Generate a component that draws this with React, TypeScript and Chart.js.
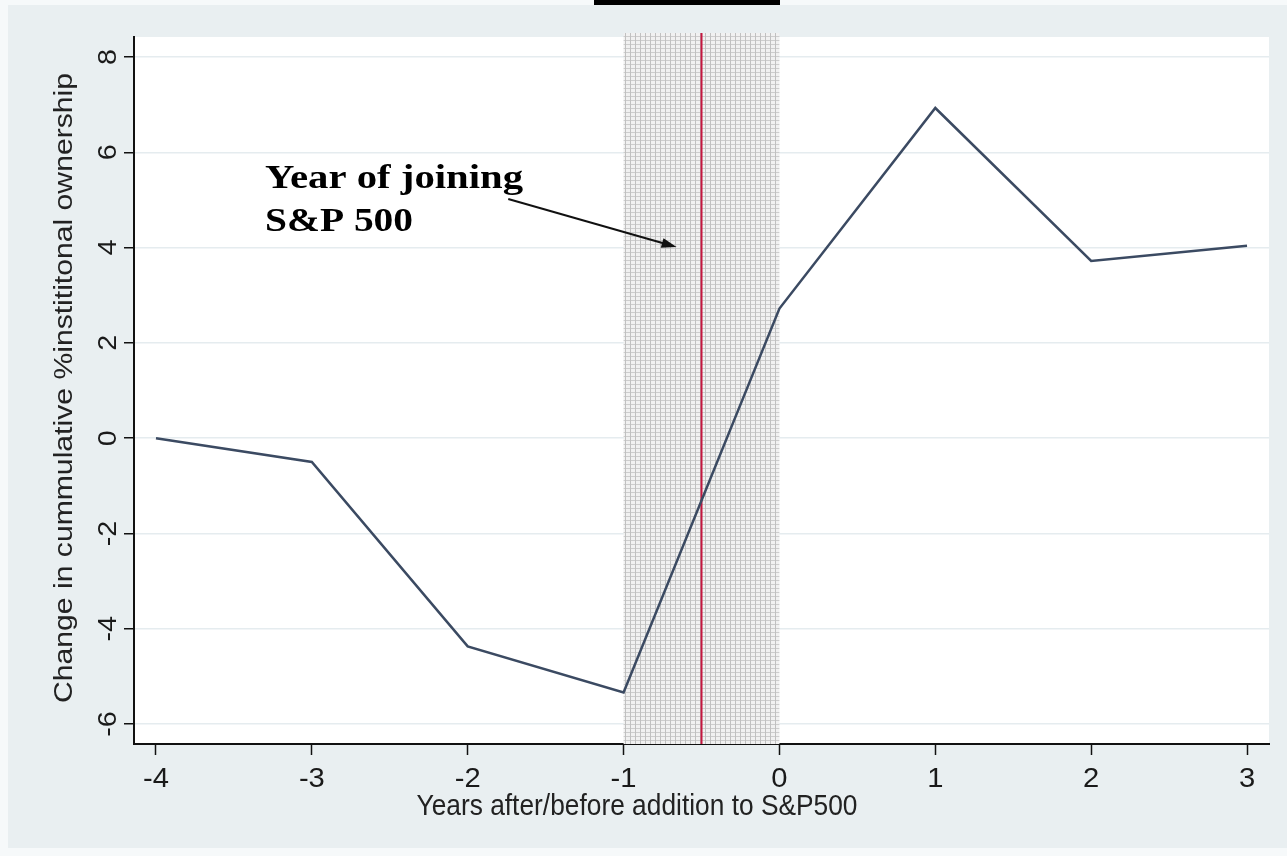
import React, { useEffect, useRef } from "react";
import { Chart, registerables } from "chart.js";

Chart.register(...registerables);

const years = [-4, -3, -2, -1, 0, 1, 2, 3];
const change = [0, -0.5, -4.37, -5.34, 2.72, 6.93, 3.72, 4.04];
const xTicks = [-4, -3, -2, -1, 0, 1, 2, 3];
const yTicks = [-6, -4, -2, 0, 2, 4, 6, 8];
const shadeRange = [-1, 0];
const eventYear = -0.5;
const annotationLines = ["Year of joining", "S&P 500"];
const annotationAnchor = [-3.3, 5.25, 4.35];
const arrowFrom = [-1.74, 5.02];
const arrowTo = [-0.66, 4.01];
const xTitle = "Years after/before addition to S&P500";
const yTitle = "Change in cummulative %instititonal ownership";

const W = 1287;
const H = 856;
const SANS = '"Liberation Sans", Arial, sans-serif';
const SERIF = '"Liberation Serif", "Times New Roman", serif';

function fitText(
  ctx: CanvasRenderingContext2D,
  text: string,
  x: number,
  y: number,
  font: string,
  targetLen: number,
  rot: number,
  align: CanvasTextAlign,
  vs = 1
) {
  ctx.save();
  ctx.font = font;
  const w = ctx.measureText(text).width;
  const s = targetLen / w;
  ctx.translate(x, y);
  ctx.rotate(rot);
  ctx.scale(s, vs);
  ctx.textAlign = align;
  ctx.textBaseline = "alphabetic";
  ctx.fillText(text, 0, 0);
  ctx.restore();
}

function makePattern(ctx: CanvasRenderingContext2D) {
  const c = document.createElement("canvas");
  c.width = 5;
  c.height = 4;
  const p = c.getContext("2d")!;
  p.fillStyle = "#F1F1F1";
  p.fillRect(0, 0, 5, 4);
  p.fillStyle = "#CDCDCD";
  p.fillRect(0, 0, 5, 1);
  p.fillStyle = "#C0C0C0";
  p.fillRect(0, 0, 1, 4);
  return ctx.createPattern(c, "repeat");
}

const decor = {
  id: "decor",
  beforeDraw(chart: any) {
    const { ctx, chartArea: a } = chart;
    ctx.save();
    ctx.fillStyle = "#F6F9FA";
    ctx.fillRect(0, 0, W, H);
    ctx.fillStyle = "#E9EFF1";
    ctx.fillRect(8, 5, W - 8, 843);
    ctx.fillStyle = "#FFFFFF";
    ctx.fillRect(a.left, a.top, a.right - a.left, a.bottom - a.top);
    ctx.restore();
  },
  beforeDatasetsDraw(chart: any) {
    const { ctx, chartArea: a, scales } = chart;
    const xs = scales.x;
    const x0 = xs.getPixelForValue(shadeRange[0]);
    const x1 = xs.getPixelForValue(shadeRange[1]);
    ctx.save();
    const pat = makePattern(ctx);
    if (pat) ctx.fillStyle = pat;
    ctx.fillRect(x0, a.top - 4, x1 - x0, a.bottom - a.top + 4);
    const xr = xs.getPixelForValue(eventYear);
    ctx.strokeStyle = "#C4173F";
    ctx.lineWidth = 2;
    ctx.beginPath();
    ctx.moveTo(xr, a.top - 4);
    ctx.lineTo(xr, a.bottom);
    ctx.stroke();
    ctx.restore();
  },
  afterDraw(chart: any) {
    const { ctx, scales } = chart;
    const xs = scales.x;
    const ys = scales.y;
    ctx.save();
    ctx.fillStyle = "#1A1A1A";
    ctx.textAlign = "center";
    ctx.textBaseline = "alphabetic";
    xTicks.forEach((v) => {
      ctx.save();
      ctx.font = `27px ${SANS}`;
      ctx.translate(xs.getPixelForValue(v), 787);
      ctx.scale(1.08, 1.05);
      ctx.fillText(String(v), 0, 0);
      ctx.restore();
    });
    yTicks.forEach((v) => {
      ctx.save();
      ctx.font = `25px ${SANS}`;
      ctx.translate(116, ys.getPixelForValue(v));
      ctx.rotate(-Math.PI / 2);
      ctx.scale(1.15, 1);
      ctx.fillText(String(v), 0, 0);
      ctx.restore();
    });
    ctx.fillStyle = "#222222";
    fitText(ctx, xTitle, 637, 815, `27px ${SANS}`, 441, 0, "center", 1.06);
    fitText(ctx, yTitle, 72, 388, `25.5px ${SANS}`, 630, -Math.PI / 2, "center");

    // annotation
    ctx.fillStyle = "#000000";
    const ax = xs.getPixelForValue(annotationAnchor[0]);
    fitText(ctx, annotationLines[0], ax, ys.getPixelForValue(annotationAnchor[1]), `bold 34px ${SERIF}`, 258, 0, "left");
    fitText(ctx, annotationLines[1], ax, ys.getPixelForValue(annotationAnchor[2]), `bold 34px ${SERIF}`, 148, 0, "left");

    const fx = xs.getPixelForValue(arrowFrom[0]);
    const fy = ys.getPixelForValue(arrowFrom[1]);
    const tx = xs.getPixelForValue(arrowTo[0]);
    const ty = ys.getPixelForValue(arrowTo[1]);
    const ang = Math.atan2(ty - fy, tx - fx);
    const hl = 15;
    const hw = 5;
    ctx.strokeStyle = "#111111";
    ctx.lineWidth = 2;
    ctx.beginPath();
    ctx.moveTo(fx, fy);
    ctx.lineTo(tx - Math.cos(ang) * hl * 0.8, ty - Math.sin(ang) * hl * 0.8);
    ctx.stroke();
    ctx.fillStyle = "#111111";
    ctx.beginPath();
    ctx.moveTo(tx, ty);
    ctx.lineTo(tx - Math.cos(ang) * hl - Math.sin(ang) * hw, ty - Math.sin(ang) * hl + Math.cos(ang) * hw);
    ctx.lineTo(tx - Math.cos(ang) * hl + Math.sin(ang) * hw, ty - Math.sin(ang) * hl - Math.cos(ang) * hw);
    ctx.closePath();
    ctx.fill();

    // black bar at the top of the picture
    ctx.fillStyle = "#000000";
    ctx.fillRect(594, 0, 186, 5);
    ctx.restore();
  },
};

export default function App() {
  const ref = useRef<HTMLCanvasElement>(null);
  useEffect(() => {
    const chart = new Chart(ref.current!, {
      type: "line",
      data: {
        datasets: [
          {
            data: years.map((x, i) => ({ x, y: change[i] })),
            borderColor: "#3B4A62",
            borderWidth: 2.5,
            pointRadius: 0,
            tension: 0,
            fill: false,
          },
        ],
      },
      options: {
        animation: false,
        responsive: false,
        devicePixelRatio: 1,
        layout: { padding: { top: 37, right: 18, left: 0, bottom: 0 } },
        plugins: { legend: { display: false }, tooltip: { enabled: false } },
        scales: {
          x: {
            type: "linear",
            min: -4.141,
            max: 3.141,
            afterBuildTicks: (s: any) => {
              s.ticks = xTicks.map((v) => ({ value: v }));
            },
            afterFit: (s: any) => {
              s.height = 112;
            },
            ticks: { display: false },
            grid: {
              drawOnChartArea: false,
              drawTicks: true,
              tickLength: 11,
              tickColor: "#111111",
              tickWidth: 1.5,
            },
            border: { display: true, color: "#111111", width: 2 },
          },
          y: {
            type: "linear",
            min: -6.42,
            max: 8.42,
            afterBuildTicks: (s: any) => {
              s.ticks = yTicks.map((v) => ({ value: v }));
            },
            afterFit: (s: any) => {
              s.width = 134;
            },
            ticks: { display: false },
            grid: {
              color: "#E5ECEF",
              lineWidth: 1.5,
              drawTicks: true,
              tickLength: 10,
              tickColor: "#111111",
              tickWidth: 1.5,
            },
            border: { display: true, color: "#111111", width: 2 },
          },
        },
      },
      plugins: [decor],
    } as any);
    return () => chart.destroy();
  }, []);
  return (
    <div style={{ position: "absolute", left: 0, top: 0, width: W, height: H }}>
      <canvas ref={ref} width={W} height={H} style={{ display: "block", width: W, height: H }} />
    </div>
  );
}
